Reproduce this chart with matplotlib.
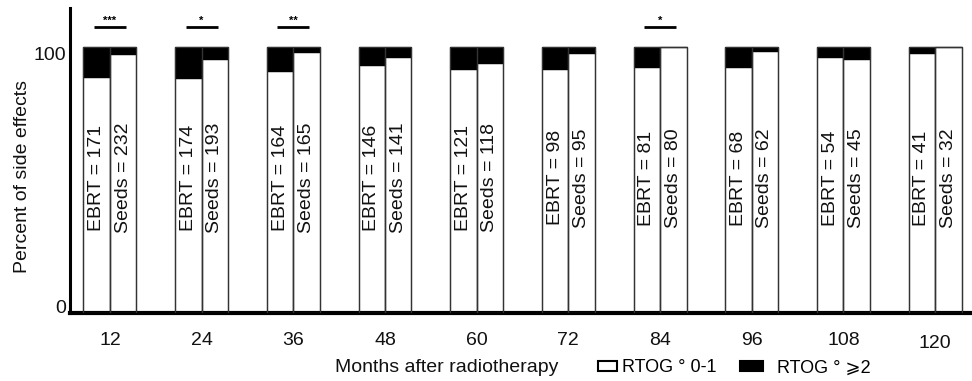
import matplotlib
matplotlib.use("Agg")
import matplotlib.pyplot as plt
from matplotlib.patches import Patch
from matplotlib.transforms import ScaledTranslation
import numpy as np

plt.rcParams['font.family'] = ['Liberation Sans', 'DejaVu Sans']

months = ["12", "24", "36", "48", "60", "72", "84", "96", "108", "120"]
ebrt_n = [171, 174, 164, 146, 121, 98, 81, 68, 54, 41]
seeds_n = [232, 193, 165, 141, 118, 95, 80, 62, 45, 32]
# percent with RTOG grade 0-1 (white part); remainder is RTOG >= 2
ebrt_low = [88.7, 88.5, 90.9, 93.1, 91.6, 91.9, 92.6, 92.4, 96.1, 97.6]
seeds_low = [97.4, 95.4, 98.1, 96.4, 94.1, 97.9, 100.0, 98.4, 95.6, 100.0]
significance = {"12": "***", "24": "*", "36": "**", "84": "*"}
legend_labels = ["RTOG ° 0-1", "RTOG ° ⩾2"]

fig = plt.figure(figsize=(9.72, 3.81), dpi=100)
ax = fig.add_axes([70/972, 1-313/381, 1-70/972, (313-8)/381])

x = np.arange(len(months))
w = 0.289
ebrt_low = np.array(ebrt_low)
seeds_low = np.array(seeds_low)

for off, low, ns, name in [(-w/2, ebrt_low, ebrt_n, "EBRT"), (w/2, seeds_low, seeds_n, "Seeds")]:
    ax.bar(x + off, low, width=w, color="white", edgecolor="#333333", linewidth=0.9, zorder=2)
    ax.bar(x + off, 100 - low, bottom=low, width=w, color="black", edgecolor="black", linewidth=0.9, zorder=2)
    ax.bar(x + off, 100, width=w, fill=False, edgecolor="#333333", linewidth=0.9, zorder=3)
    for xi, n in zip(x + off, ns):
        ax.text(xi, 50.8, f"{name} = {n}", rotation=90, ha="center", va="center",
                fontsize=14, color="#111111", zorder=4)

for i, m in enumerate(months):
    if m in significance:
        ax.plot([i - 0.175, i + 0.175], [107.5, 107.5], color="black", lw=2, solid_capstyle="butt")
        ax.text(i, 108.0, significance[m], ha="center", va="bottom", fontsize=8,
                fontweight="bold", color="black")

ax.set_xlim(-0.436, 9.403)
ax.set_ylim(0, 114.7)
ax.set_xticks(x)
ax.set_xticklabels(months, fontsize=14, color="#111111")
ax.set_yticks([0, 100])
ax.set_yticklabels(["0", "100"], fontsize=14, color="#111111")
ax.tick_params(axis="x", length=0, pad=14)
ax.tick_params(axis="y", length=0, pad=3)
ylabs = ax.get_yticklabels()
ylabs[0].set_va("baseline")
ylabs[1].set_va("top")
xl = ax.get_xticklabels()[-1]
xl.set_transform(xl.get_transform() + ScaledTranslation(0, -3/100, fig.dpi_scale_trans))

for s in ["top", "right"]:
    ax.spines[s].set_visible(False)
ax.spines["left"].set_linewidth(2.2)
ax.spines["bottom"].set_linewidth(3)

ax.set_ylabel("Percent of side effects", fontsize=14, color="#111111")
ax.yaxis.set_label_coords(-0.0435, 0.449)
fig.text(447/972, 1-368/381, "Months after radiotherapy", ha="center", va="center",
         fontsize=14, color="#111111")

leg1 = fig.legend([Patch(facecolor="white", edgecolor="black", linewidth=1.5)], [legend_labels[0]],
                  loc="center left", bbox_to_anchor=(598/972, 1-368/381), frameon=False,
                  fontsize=13, handlelength=1.05, handleheight=0.45, handletextpad=0.28,
                  borderpad=0, borderaxespad=0)
leg2 = fig.legend([Patch(facecolor="black", edgecolor="black", linewidth=1.5)], [legend_labels[1]],
                  loc="center left", bbox_to_anchor=(740/972, 1-368/381), frameon=False,
                  fontsize=13, handlelength=1.25, handleheight=0.45, handletextpad=0.8,
                  borderpad=0, borderaxespad=0)

fig.savefig("out.png", dpi=100)
